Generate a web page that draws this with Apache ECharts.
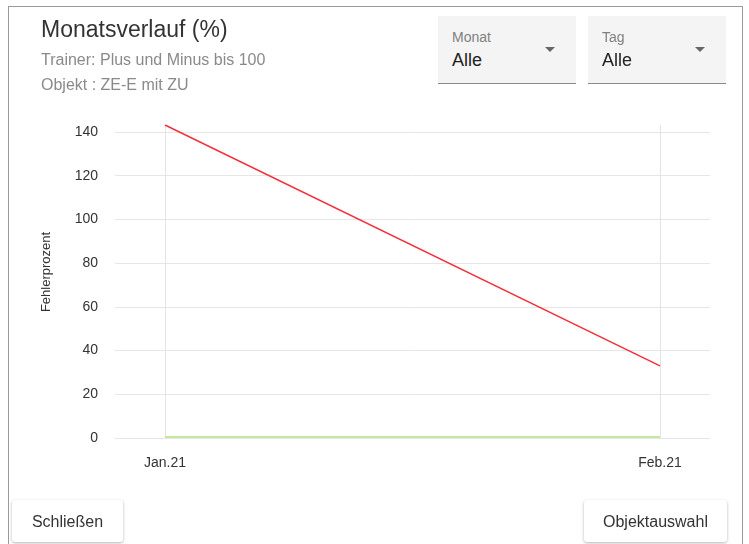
<!DOCTYPE html>
<html><head><meta charset="utf-8">
<script src="https://cdn.jsdelivr.net/npm/echarts@6/dist/echarts.min.js"></script>
<style>
html,body{margin:0;padding:0;background:#fff;}
#wrap{position:relative;width:749px;height:544px;overflow:hidden;font-family:"Liberation Sans",Arial,sans-serif;}
#dlg{position:absolute;left:8px;top:6px;width:735px;height:560px;border:1px solid #9a9a9a;border-bottom:none;box-sizing:border-box;}
#chart{position:absolute;left:0;top:0;width:749px;height:544px;}
.t{position:absolute;white-space:nowrap;line-height:1;}
.sel{position:absolute;top:16px;width:138px;height:68px;background:#f4f4f4;border-bottom:1px solid #8a8a8a;box-sizing:border-box;}
.sel .lab{position:absolute;left:14px;top:14px;font-size:14px;line-height:1;color:#808080;}
.sel .val{position:absolute;left:14px;top:35px;font-size:18px;line-height:1;color:#222;}
.sel .arr{position:absolute;right:21px;top:31px;width:0;height:0;border-left:5px solid transparent;border-right:5px solid transparent;border-top:5px solid #666;}
.btn{position:absolute;top:500px;height:42px;background:#fff;box-shadow:0 1px 3px rgba(0,0,0,0.3);border-radius:3px;font-size:16px;color:#333;text-align:center;line-height:1;padding-top:13.5px;box-sizing:border-box;}
</style></head>
<body>
<div id="wrap">
  <div id="dlg"></div>
  <div id="chart"></div>
  <div class="t" style="left:41px;top:17.5px;font-size:23px;color:#333;">Monatsverlauf (%)</div>
  <div class="t" style="left:41px;top:51.5px;font-size:16px;color:#8a8a8a;">Trainer: Plus und Minus bis 100</div>
  <div class="t" style="left:41px;top:77px;font-size:16px;color:#8a8a8a;">Objekt : ZE-E mit ZU</div>
  <div class="sel" style="left:438px;"><div class="lab">Monat</div><div class="val">Alle</div><div class="arr"></div></div>
  <div class="sel" style="left:588px;"><div class="lab">Tag</div><div class="val">Alle</div><div class="arr"></div></div>
  <div class="btn" style="left:12px;width:111px;">Schließen</div>
  <div class="btn" style="left:584px;width:143px;">Objektauswahl</div>
</div>
<script>
var categories = ['Jan.21', 'Feb.21'];
var fehlerRot = [143.2, 33];
var fehlerGruen = [0.5, 0.5];
var yTicksMax = 140;
var yInterval = 20;
var yAxisName = 'Fehlerprozent';

var chart = echarts.init(document.getElementById('chart'), null, {renderer: 'canvas'});
var labelFont = {fontFamily: '"Liberation Sans", Arial, sans-serif', fontSize: 14, color: '#333'};
var dataMax = Math.max.apply(null, fehlerRot);
chart.setOption({
  animation: false,
  grid: [
    {left: 115, right: 39, top: 132, bottom: 106},
    {left: 165, right: 89, top: 438 - dataMax * 306 / yTicksMax, bottom: 106}
  ],
  xAxis: [
    {gridIndex: 0, type: 'category', data: categories, show: false},
    {gridIndex: 1, type: 'category', data: categories, boundaryGap: false,
     axisLine: {show: false}, axisTick: {show: false},
     axisLabel: Object.assign({margin: 18}, labelFont),
     splitLine: {show: true, lineStyle: {color: '#e4e4e4', width: 1}}}
  ],
  yAxis: [
    {gridIndex: 0, type: 'value', min: 0, max: yTicksMax, interval: yInterval,
     name: yAxisName, nameLocation: 'middle', nameGap: 62, nameRotate: 90,
     nameTextStyle: Object.assign({}, labelFont, {fontSize: 13, padding: [0, 0, 0, 26]}),
     axisLine: {show: false}, axisTick: {show: false},
     axisLabel: Object.assign({margin: 17}, labelFont),
     splitLine: {show: true, lineStyle: {color: '#e6e6e6', width: 1}}},
    {gridIndex: 1, type: 'value', min: 0, max: dataMax, show: false, splitLine: {show: false}}
  ],
  series: [
    {type: 'line', xAxisIndex: 1, yAxisIndex: 1, data: fehlerGruen, symbol: 'none',
     lineStyle: {color: '#c5e8a0', width: 2}},
    {type: 'line', xAxisIndex: 1, yAxisIndex: 1, data: fehlerRot, symbol: 'none',
     lineStyle: {color: '#f4303c', width: 1.5}}
  ]
});
</script>
</body></html>
